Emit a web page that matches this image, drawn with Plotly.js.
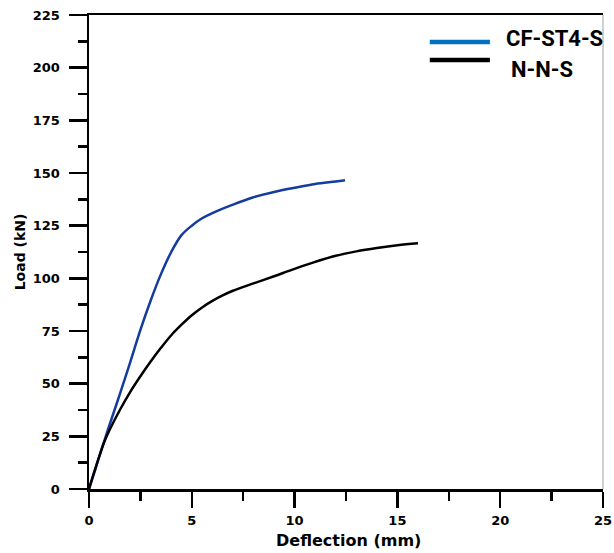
<!DOCTYPE html>
<html>
<head>
<meta charset="utf-8">
<script src="https://cdn.plot.ly/plotly-3.0.1.min.js"></script>
<style>html,body{margin:0;padding:0;background:#fff;}#chart{width:614px;height:553px;}</style>
</head>
<body>
<div id="chart"></div>
<script>
// CF-ST4-S series
const cfDeflection = [0, 0.25, 0.5, 0.75, 1.0, 1.5, 2.0, 2.5, 3.0, 3.5, 4.0, 4.5, 5.0, 5.5, 6.0, 7.0, 8.0, 9.0, 10.0, 11.0, 12.0, 12.45];
const cfLoad       = [0, 7.5, 15.5, 23, 30.5, 45, 60, 75.5, 89.5, 102, 112.5, 120.5, 125, 128.5, 131, 135, 138.5, 141, 143, 144.8, 146, 146.6];
// N-N-S series
const nnDeflection = [0, 0.25, 0.5, 0.75, 1.0, 1.5, 2.0, 2.5, 3.0, 3.5, 4.0, 4.5, 5.0, 5.5, 6.0, 6.5, 7.0, 8.0, 9.0, 10.0, 11.0, 12.0, 13.0, 14.0, 15.0, 16.0];
const nnLoad       = [0, 8, 15.5, 22.5, 28, 37.5, 46, 53.5, 60.5, 67, 73, 78, 82.5, 86.2, 89.3, 91.9, 94.1, 97.6, 101, 104.5, 107.8, 110.7, 112.8, 114.4, 115.7, 116.6];
const seriesNames = ['CF-ST4-S', 'N-N-S'];
const xTickVals = [0, 5, 10, 15, 20, 25];
const yTickVals = [0, 25, 50, 75, 100, 125, 150, 175, 200, 225];
const xTitle = 'Deflection (mm)';
const yTitle = 'Load (kN)';

const traces = [
  {x: cfDeflection, y: cfLoad, name: seriesNames[0], mode: 'lines',
   line: {color: '#143c9e', width: 2.5, shape: 'spline', smoothing: 1}},
  {x: nnDeflection, y: nnLoad, name: seriesNames[1], mode: 'lines',
   line: {color: '#000000', width: 2.5, shape: 'spline', smoothing: 1}}
];

const tickFont = {family: 'DejaVu Sans', size: 13, color: '#000', weight: 'bold'};
const legFont = {family: 'Roboto', size: 22, color: '#000', weight: 'bold'};

const layout = {
  width: 614, height: 553,
  margin: {l: 89, r: 11, t: 15, b: 64},
  paper_bgcolor: '#fff', plot_bgcolor: '#fff',
  showlegend: false,
  xaxis: {
    range: [0, 25], tickvals: xTickVals, ticktext: xTickVals.map(String),
    showgrid: false, zeroline: false,
    showline: true, linecolor: '#000', linewidth: 2.5, mirror: true,
    ticks: 'outside', ticklen: 16, tickwidth: 2.5, tickcolor: '#000',
    minor: {dtick: 2.5, tick0: 0, ticks: 'outside', ticklen: 9, tickwidth: 2.5, tickcolor: '#000', showgrid: false},
    tickfont: tickFont, ticklabelstandoff: 2,
    automargin: false, fixedrange: true
  },
  yaxis: {
    range: [0, 225], tickvals: yTickVals, ticktext: yTickVals.map(String),
    showgrid: false, zeroline: false,
    showline: true, linecolor: '#000', linewidth: 2.5,
    ticks: 'outside', ticklen: 18, tickwidth: 2.5, tickcolor: '#000',
    minor: {dtick: 12.5, tick0: 0, ticks: 'outside', ticklen: 9, tickwidth: 2.5, tickcolor: '#000', showgrid: false},
    tickfont: tickFont, ticklabelstandoff: 6,
    title: {text: yTitle, font: {family: 'DejaVu Sans', size: 14, color: '#000', weight: 'bold'}, standoff: 4},
    automargin: false, fixedrange: true
  },
  shapes: [
    {type: 'line', xref: 'paper', yref: 'paper', x0: 1, x1: 1, y0: 0, y1: 1, line: {color: '#a0a0a0', width: 1}},
    {type: 'line', xref: 'paper', yref: 'paper', x0: 0.663, x1: 0.780, y0: 0.943, y1: 0.943, line: {color: '#0070c0', width: 4.5}},
    {type: 'line', xref: 'paper', yref: 'paper', x0: 0.663, x1: 0.780, y0: 0.905, y1: 0.905, line: {color: '#000000', width: 4.5}}
  ],
  annotations: [
    {xref: 'paper', yref: 'paper', x: 0.504, y: -0.085, xanchor: 'center', yanchor: 'top', showarrow: false,
     text: xTitle, font: {family: 'DejaVu Sans', size: 16, color: '#000', weight: 'bold'}},
    {xref: 'paper', yref: 'paper', x: 0.808, y: 0.950, xanchor: 'left', yanchor: 'middle', showarrow: false,
     text: seriesNames[0], font: legFont},
    {xref: 'paper', yref: 'paper', x: 0.817, y: 0.884, xanchor: 'left', yanchor: 'middle', showarrow: false,
     text: seriesNames[1], font: legFont}
  ]
};

Plotly.newPlot('chart', traces, layout, {displayModeBar: false, staticPlot: true});
</script>
</body>
</html>
